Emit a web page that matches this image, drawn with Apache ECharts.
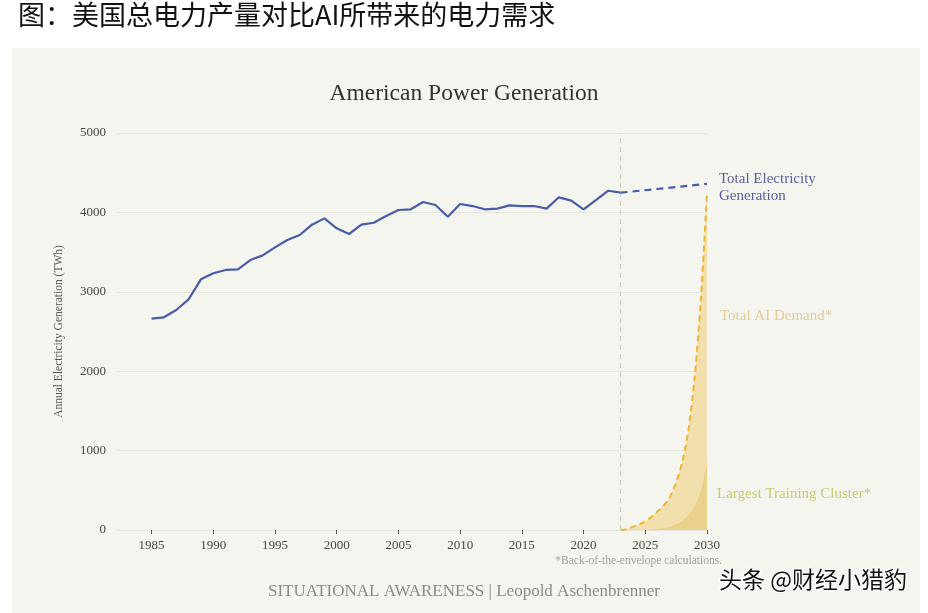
<!DOCTYPE html>
<html>
<head>
<meta charset="utf-8">
<script src="https://cdn.jsdelivr.net/npm/echarts@6/dist/echarts.min.js"></script>
<style>
html,body{margin:0;padding:0;background:#ffffff;}
#chart{width:928px;height:613px;}
</style>
</head>
<body>
<div id="chart"></div>
<script>
// ---- data ----
const histYears = [1985,1986,1987,1988,1989,1990,1991,1992,1993,1994,1995,1996,1997,1998,1999,2000,2001,2002,2003,2004,2005,2006,2007,2008,2009,2010,2011,2012,2013,2014,2015,2016,2017,2018,2019,2020,2021,2022,2023];
const histGen = [2661,2679,2771,2905,3157,3233,3275,3283,3400,3459,3560,3652,3715,3845,3925,3800,3728,3845,3870,3955,4030,4039,4131,4093,3946,4106,4080,4039,4047,4089,4080,4080,4047,4190,4148,4039,4156,4273,4248];
const projYears = [2023, 2030];
const projGen = [4248, 4360];
const aiYears = [2023,2023.5,2024,2024.5,2025,2025.5,2026,2026.5,2027,2027.5,2028,2028.5,2029,2029.5,2030];
const aiDemand = [0,10,40,72,108,165,235,310,420,600,860,1270,1920,2900,4250];
const clusterYears = [2025,2025.5,2026,2026.5,2027,2027.5,2028,2028.5,2029,2029.5,2030];
const clusterDemand = [0,5,12,25,42,70,115,190,300,490,850];
const xTickYears = [1985,1990,1995,2000,2005,2010,2015,2020,2025,2030];
const yTicks = [0,1000,2000,3000,4000,5000];
const cutoffYear = 2023;

const zip = (xs, ys) => xs.map((x, i) => [x, ys[i]]);
const serif = '"Liberation Serif", "DejaVu Serif", serif';

const chart = echarts.init(document.getElementById('chart'), null, {renderer: 'canvas'});
chart.setOption({
  backgroundColor: '#ffffff',
  animation: false,
  graphic: [
    {type: 'rect', left: 12, top: 48, shape: {width: 908, height: 565}, style: {fill: '#f5f5f0'}, z: -100, silent: true},
    {type: 'text', left: 720, top: 309, style: {text: 'Total AI Demand*', fill: '#e2cc98', font: '15px ' + serif}},
    {type: 'text', left: 717, top: 487, style: {text: 'Largest Training Cluster*', fill: '#c9ca6c', font: '15px ' + serif}},
    {type: 'text', right: 206, top: 555, style: {text: '*Back-of-the-envelope calculations.', fill: '#a0a0a0', font: '11.5px ' + serif}},
    {type: 'text', left: 'center', top: 583, style: {text: 'SITUATIONAL AWARENESS | Leopold Aschenbrenner', fill: '#8a8a8a', font: '17px ' + serif}},
    {type: 'text', left: 718, top: 567, style: {text: '头条 @财经小猎豹', fill: '#111111', stroke: '#ffffff', lineWidth: 2, font: '23px "Noto Sans CJK SC"'}}
  ],
  title: [
    {text: '图：美国总电力产量对比AI所带来的电力需求', left: 18, top: 1, padding: 0,
     textStyle: {fontFamily: '"Noto Sans CJK SC"', fontSize: 27, fontWeight: 'normal', color: '#111111'}},
    {text: 'American Power Generation', left: 'center', top: 82, padding: 0,
     textStyle: {fontFamily: serif, fontSize: 23.5, fontWeight: 'normal', color: '#333333'}}
  ],
  grid: {left: 117, right: 221, top: 133, bottom: 83, containLabel: false},
  xAxis: {
    type: 'value', min: 1982.2, max: 2030,
    axisLine: {show: false},
    axisTick: {show: true, length: 4, lineStyle: {color: '#555555', width: 1}, customValues: xTickYears},
    axisLabel: {customValues: xTickYears, formatter: v => String(v), margin: 9, color: '#444444', fontFamily: serif, fontSize: 13},
    splitLine: {show: false}
  },
  yAxis: {
    type: 'value', min: 0, max: 5000, interval: 1000,
    name: 'Annual Electricity Generation (TWh)', nameLocation: 'middle', nameGap: 52,
    nameTextStyle: {fontFamily: serif, fontSize: 11.5, color: '#555555'},
    axisLine: {show: false}, axisTick: {show: false},
    axisLabel: {margin: 11, color: '#444444', fontFamily: serif, fontSize: 13,
      customValues: yTicks, formatter: v => String(v)},
    splitLine: {lineStyle: {color: '#e6e6df', width: 1}}
  },
  series: [
    {
      name: 'AI area', type: 'line', data: zip(aiYears, aiDemand), smooth: 0.3,
      showSymbol: false, lineStyle: {width: 0}, areaStyle: {color: '#f2e0ac', opacity: 1}, z: 1,
      markLine: {
        silent: true, symbol: 'none', label: {show: false},
        lineStyle: {color: '#d2d2cc', type: [5, 4], width: 1.2},
        data: [{xAxis: cutoffYear}]
      }
    },
    {
      name: 'Cluster area', type: 'line', data: zip(clusterYears, clusterDemand), smooth: 0.3,
      showSymbol: false, lineStyle: {width: 0}, areaStyle: {color: '#ebd08c', opacity: 1}, z: 2
    },
    {
      name: 'Total AI Demand', type: 'line', data: zip(aiYears, aiDemand), smooth: 0.3,
      showSymbol: false, lineStyle: {color: '#f0b433', width: 2, type: [6, 4]}, z: 4
    },
    {
      name: 'Historical', type: 'line', data: zip(histYears, histGen),
      showSymbol: false, lineStyle: {color: '#4a5ca6', width: 2.2}, z: 5
    },
    {
      name: 'Projection', type: 'line', data: zip(projYears, projGen),
      showSymbol: false, lineStyle: {color: '#4a5ca6', width: 2.2, type: [7, 5]}, z: 5,
      endLabel: {show: true, formatter: 'Total Electricity\nGeneration', distance: 12, offset: [0, 4],
        color: '#5b5e99', fontFamily: serif, fontSize: 15, lineHeight: 17, align: 'left'}
    }
  ]
});
</script>
</body>
</html>
